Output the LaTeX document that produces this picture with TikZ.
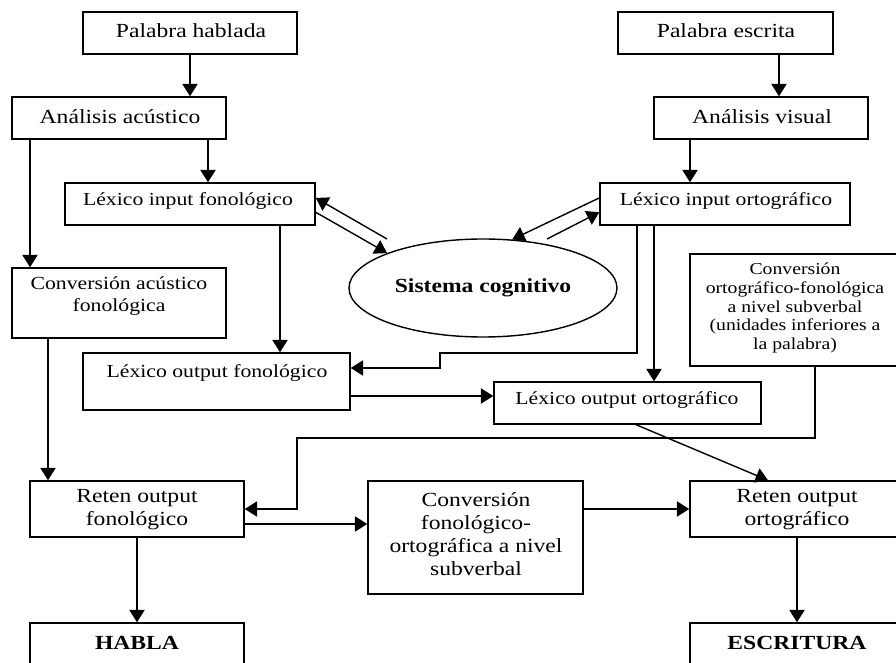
\documentclass[tikz,border=0pt]{standalone}
\usepackage{fontspec}
\setmainfont{Liberation Serif}[FakeStretch=1.18]
\usetikzlibrary{arrows.meta,fit,calc,shapes.geometric}

\begin{document}
\begin{tikzpicture}[x=0.5pt,y=-0.5pt,
  box/.style={draw, line width=0.7pt, inner sep=0pt, rectangle},
  lbl/.style={align=center, inner sep=0pt},
  big/.style={lbl, font=\fontsize{10}{11.6}\selectfont},
  mid/.style={lbl, font=\fontsize{9.2}{10.9}\selectfont},
  small/.style={lbl, font=\fontsize{8.35}{9.4}\selectfont},
  bigbold/.style={lbl, font=\fontsize{10}{11.6}\selectfont\bfseries},
  conn/.style={line width=0.7pt, -{Triangle[length=6.2pt,width=7.6pt]}},
  oval/.style={draw, ellipse, line width=0.7pt, inner sep=0pt,
    minimum width=134pt, minimum height=49pt,
    font=\fontsize{10}{11.6}\selectfont\bfseries}
]
\useasboundingbox (0,0) rectangle (896,663);
\clip (0,0) rectangle (896,663);

% boxes
\node[box, fit={(83,12) (297,54)}]   (ph)  {};
\node[box, fit={(12,97) (226,139)}]  (aa)  {};
\node[box, fit={(65,183) (315,225)}] (lif) {};
\node[box, fit={(12,268) (226,338)}] (caf) {};
\node[box, fit={(83,353) (350,410)}] (lof) {};
\node[box, fit={(618,12) (833,54)}]  (pe)  {};
\node[box, fit={(654,97) (868,139)}] (av)  {};
\node[box, fit={(600,183) (850,225)}] (lio) {};
\node[box, fit={(690,254) (900,366)}] (cof) {};
\node[box, fit={(494,382) (761,424)}] (loo) {};
\node[box, fit={(30,481) (244,537)}]  (rof) {};
\node[box, fit={(368,481) (583,594)}] (cfo) {};
\node[box, fit={(690,481) (904,537)}] (roo) {};
\node[box, fit={(30,623) (244,700)}]  (habla) {};
\node[box, fit={(690,623) (904,700)}] (escr) {};
\node[oval] (sc) at (483,288) {Sistema cognitivo};

% labels
\node[big] (tph)  at (191,31)  {Palabra hablada};
\node[big] (taa)  at (120,117) {Análisis acústico};
\node[mid] (tlif) at (188,201) {Léxico input fonológico};
\node[mid] (tcaf) at (119,296) {Conversión acústico\\fonológica};
\node[mid] (tlof) at (217,373) {Léxico output fonológico};
\node[big] (tpe)  at (726,31)  {Palabra escrita};
\node[big] (tav)  at (762,117) {Análisis visual};
\node[mid] (tlio) at (726,201) {Léxico input ortográfico};
\node[small] (tcof) at (795,308) {Conversión\\ortográfico-fonológica\\a nivel subverbal\\(unidades inferiores a\\la palabra)};
\node[mid] (tloo) at (627,400) {Léxico output ortográfico};
\node[big] (trof) at (137,510) {Reten output\\fonológico};
\node[big] (tcfo) at (476,534) {Conversión\\fonológico-\\ortográfica a nivel\\subverbal};
\node[big] (troo) at (797,510) {Reten output\\ortográfico};
\node[bigbold] (thab) at (137,643) {HABLA};
\node[bigbold] (tesc) at (797,643) {ESCRITURA};

% helper coordinates
\coordinate (x30) at (30,0);
\coordinate (x48) at (48,0);
\coordinate (x190) at (190,0);
\coordinate (x208) at (208,0);
\coordinate (x280) at (280,0);
\coordinate (x637) at (637,0);
\coordinate (x654) at (654,0);
\coordinate (x636) at (636,0);
\coordinate (x690) at (690,0);
\coordinate (x768) at (768,0);
\coordinate (x779) at (779,0);
\coordinate (x815) at (815,0);
\coordinate (y368) at (0,368);
\coordinate (y396) at (0,396);
\coordinate (y524) at (0,524);
\coordinate (s1) at (387,239);
\coordinate (s2) at (547,239);

% connectors
\draw[conn] (ph.south -| x190) -- (aa.north -| x190);
\draw[conn] (aa.south -| x208) -- (lif.north -| x208);
\draw[conn] (aa.south -| x30) -- (caf.north -| x30);
\draw[conn] (caf.south -| x48) -- (rof.north -| x48);
\draw[conn] (lif.south -| x280) -- (lof.north -| x280);
\draw[conn] (pe.south -| x779) -- (av.north -| x779);
\draw[conn] (av.south -| x690) -- (lio.north -| x690);
\draw[conn] (lio.south -| x654) -- (loo.north -| x654);

\draw[conn] (s1) -- ($(lif.north east)!0.36!(lif.south east)$);
\draw[conn] ($(lif.north east)!0.69!(lif.south east)$) -- (sc.160);
\draw[conn] ($(lio.north west)!0.36!(lio.south west)$) -- (sc.59);
\draw[conn] (s2) -- ($(lio.north west)!0.69!(lio.south west)$);

\draw[conn] (lio.south -| x637) -- (637,353) -- (440,353) -- (440,368) -- (lof.east |- y368);
\draw[conn] (lof.east |- y396) -- (loo.west |- y396);
\draw[conn] (loo.south -| x636) -- (roo.north -| x768);
\draw[conn] (cof.south -| x815) -- (815,438) -- (297,438) -- (297,509) -- (rof.east);
\draw[conn] (rof.east |- y524) -- (cfo.west |- y524);
\draw[conn] (cfo.east |- roo.west) -- (roo.west);
\draw[conn] (rof.south) -- (habla.north);
\draw[conn] (roo.south) -- (escr.north);
\end{tikzpicture}
\end{document}
